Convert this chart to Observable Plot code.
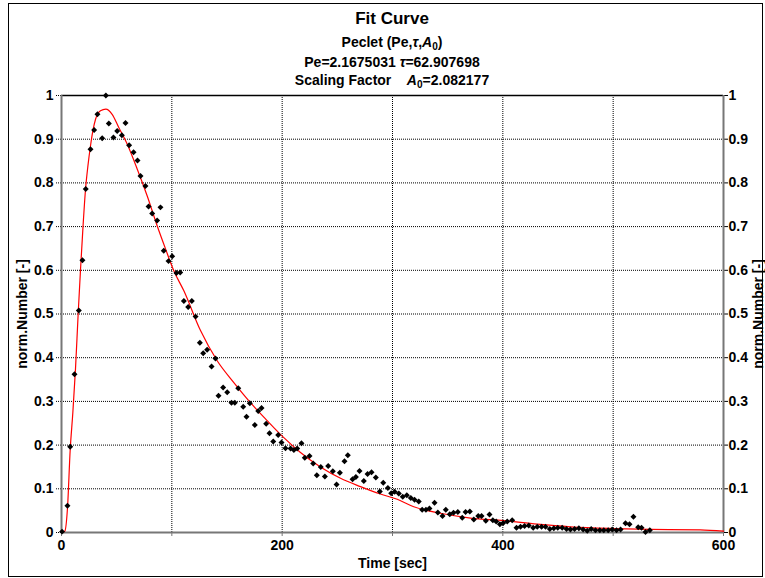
<!DOCTYPE html>
<html>
<head>
<meta charset="utf-8">
<script src="https://cdn.jsdelivr.net/npm/d3@7"></script>
<script src="https://cdn.jsdelivr.net/npm/@observablehq/plot@0.6"></script>
<style>
  body { margin: 0; background: #fff; font-family: "Liberation Sans", Arial, sans-serif; }
  #wrap { position: relative; width: 765px; height: 578px; overflow: hidden; background: #fff; }
  #head { position: relative; height: 88px; }
  .t { position: absolute; left: 0; width: 784px; text-align: center; font-weight: bold; line-height: 1; white-space: pre; color: #000; }
  .t sub { font-size: 0.72em; line-height: 0; vertical-align: -0.25em; }
  #frame { position: absolute; left: 8px; top: 3px; width: 753px; height: 572px; border: 1px solid #000; pointer-events: none; }
</style>
</head>
<body>
<div id="wrap">
  <div id="head">
    <div class="t" style="top:10px;font-size:17px;">Fit Curve</div>
    <div class="t" style="top:35px;font-size:14px;">Peclet (Pe,<i>τ</i>,<i>A</i><sub>0</sub>)</div>
    <div class="t" style="top:55px;font-size:14px;">Pe=2.1675031 <i>τ</i>=62.907698</div>
    <div class="t" style="top:73px;font-size:14px;">Scaling Factor    <i>A</i><sub>0</sub>=2.082177</div>
  </div>
  <div id="chart"></div>
  <div id="frame"></div>
</div>
<script>
// Measured residence-time samples (time in s, normalised count)
const timeSec = [
  0.5, 5.4, 7.9, 11.8, 15.7, 19.0, 22.0, 26.3, 29.6, 32.6, 36.9, 40.2, 42.9, 47.1, 50.5, 54.7,
  58.0, 61.3, 65.3, 68.9, 71.6, 76.1, 78.9, 82.2, 86.7, 89.7, 92.7, 97.0, 100.3, 104.2, 107.6,
  110.9, 114.8, 118.1, 121.5, 125.4, 128.4, 132.0, 136.0, 139.6, 142.3, 146.5, 150.2, 154.1,
  157.1, 160.2, 164.7, 167.7, 170.7, 175.2, 178.3, 181.3, 185.5, 188.5, 191.9, 196.4, 199.4,
  203.0, 207.6, 210.6, 213.6, 217.5, 220.5, 224.8, 228.1, 231.4, 235.0, 238.7, 241.7, 245.9,
  249.3, 252.3, 256.5, 259.5, 263.8, 266.8, 270.1, 274.0, 277.4, 281.0, 284.9, 288.5, 291.6,
  295.8, 298.8, 302.0, 305.7, 309.3, 313.0, 316.6, 320.0, 323.8, 326.9, 330.3, 333.5, 338.1,
  341.1, 345.3, 348.3, 351.9, 355.3, 359.2, 363.2, 366.2, 370.1, 373.7, 377.7, 380.7, 384.6,
  387.9, 390.9, 394.0, 397.3, 400.3, 404.0, 408.5, 412.4, 416.0, 419.7, 423.5, 427.5, 431.2,
  435.1, 438.7, 442.6, 446.2, 449.8, 453.8, 457.7, 461.3, 465.0, 468.9, 472.8, 476.5, 480.1,
  484.0, 487.9, 491.5, 495.5, 499.1, 503.0, 506.7, 511.2, 514.8, 518.4, 522.7, 525.7, 529.3, 533.2
];
const normNumber = [
  0.002, 0.061, 0.196, 0.362, 0.508, 0.623, 0.786, 0.877, 0.921, 0.957, 0.902, 1.000, 0.936, 0.904, 0.919, 0.909,
  0.937, 0.886, 0.870, 0.851, 0.816, 0.793, 0.746, 0.730, 0.714, 0.744, 0.645, 0.621, 0.632, 0.594, 0.595,
  0.530, 0.516, 0.530, 0.494, 0.434, 0.410, 0.418, 0.380, 0.398, 0.313, 0.332, 0.321, 0.297,
  0.297, 0.330, 0.288, 0.265, 0.296, 0.246, 0.278, 0.285, 0.249, 0.227, 0.208, 0.223, 0.206,
  0.193, 0.192, 0.189, 0.192, 0.204, 0.171, 0.175, 0.158, 0.131, 0.150, 0.128, 0.152, 0.140,
  0.110, 0.137, 0.163, 0.177, 0.122, 0.127, 0.141, 0.118, 0.134, 0.138, 0.126, 0.094, 0.114,
  0.102, 0.090, 0.093, 0.089, 0.082, 0.085, 0.079, 0.075, 0.071, 0.052, 0.052, 0.055, 0.068,
  0.046, 0.038, 0.052, 0.042, 0.045, 0.047, 0.034, 0.047, 0.048, 0.030, 0.038, 0.038, 0.027,
  0.041, 0.028, 0.025, 0.019, 0.022, 0.025, 0.028, 0.011, 0.013, 0.015, 0.016, 0.011, 0.013,
  0.013, 0.013, 0.008, 0.010, 0.011, 0.011, 0.008, 0.007, 0.008, 0.010, 0.007, 0.004, 0.008,
  0.005, 0.005, 0.005, 0.005, 0.007, 0.005, 0.007, 0.021, 0.019, 0.036, 0.012, 0.011, 0.001, 0.005
];

// Fitted Peclet curve, sampled along its length
const fitTime = [
  0, 3, 5.4, 7.9, 10.3, 12.7, 15.1, 17.2, 19.5, 21.8, 24.0, 26.3, 28.5, 30.8, 35.3, 40.2, 45.9,
  51.9, 59.5, 68.6, 77.7, 86.7, 94.3, 101.8, 110.9, 126.0, 141.1, 156.2, 171.3, 186.4, 201.5,
  216.6, 234.7, 252.9, 271.0, 289.1, 304.3, 319.3, 343.5, 370.7, 400.9, 431.2, 461.3, 500.6,
  533.9, 579.0, 600
];
const fitNorm = [
  0, 0.003, 0.055, 0.19, 0.275, 0.375, 0.50, 0.60, 0.70, 0.786, 0.84, 0.885, 0.92, 0.945, 0.965, 0.969, 0.957,
  0.927, 0.889, 0.832, 0.770, 0.702, 0.649, 0.599, 0.553, 0.462, 0.393, 0.343, 0.297, 0.256, 0.217,
  0.183, 0.150, 0.124, 0.105, 0.088, 0.076, 0.059, 0.044, 0.033, 0.027, 0.019, 0.013, 0.009,
  0.007, 0.006, 0.003
];

// Axis ticks
const xTicks = [0, 100, 200, 300, 400, 500, 600];
const xLabelTicks = [0, 200, 400, 600];
const xGridTicks = [100, 200, 300, 400, 500];
const yTicks = [0, 0.1, 0.2, 0.3, 0.4, 0.5, 0.6, 0.7, 0.8, 0.9, 1];
const yGridTicks = [0.1, 0.2, 0.3, 0.4, 0.5, 0.6, 0.7, 0.8, 0.9];

const samples = timeSec.map((t, i) => ({t, v: normNumber[i]}));
const fit = fitTime.map((t, i) => ({t, v: fitNorm[i]}));
const yFmt = d => d3.format("~g")(d);
const dotted = {stroke: "#000", strokeOpacity: 1, strokeDasharray: "1,1"};

const chart = Plot.plot({
  width: 765,
  height: 490,
  marginTop: 7,
  marginBottom: 46,
  marginLeft: 61,
  marginRight: 42,
  style: {
    fontFamily: '"Liberation Sans", Arial, sans-serif',
    fontSize: "14px",
    fontWeight: "bold",
    color: "#000",
    background: "transparent",
    overflow: "visible"
  },
  x: {domain: [0, 600]},
  y: {domain: [0, 1]},
  marks: [
    Plot.gridX(xGridTicks, dotted),
    Plot.gridY(yGridTicks, dotted),
    Plot.axisY(yTicks, {anchor: "left", tickSize: 5, tickPadding: 3, tickFormat: yFmt, label: null, strokeDasharray: "1,1"}),
    Plot.axisY(yTicks, {anchor: "right", tickSize: 4, tickPadding: 1, tickFormat: yFmt, label: null}),
    Plot.axisX(xTicks, {anchor: "bottom", tickSize: 4, tickFormat: () => "", label: null, stroke: "#777"}),
    Plot.axisX(xLabelTicks, {anchor: "bottom", tickSize: 0, tickPadding: 8, label: null}),
    Plot.ruleY([1], {stroke: "#000", strokeWidth: 1.3}),
    Plot.ruleX([0, 600], {stroke: "#777", strokeWidth: 2}),
    Plot.ruleY([0], {stroke: "#777", strokeWidth: 2}),
    Plot.line(fit, {x: "t", y: "v", stroke: "#ff0000", strokeWidth: 1.2, curve: "monotone-x"}),
    Plot.dot(samples, {x: "t", y: "v", symbol: "diamond2", r: 2.7, fill: "#000", stroke: "none"}),
    Plot.text(["norm.Number [-]"], {text: d => d, frameAnchor: "left", textAnchor: "middle", dx: -39, rotate: -90}),
    Plot.text(["norm.Number [-]"], {text: d => d, frameAnchor: "right", textAnchor: "middle", dx: 35, rotate: -90}),
    Plot.text(["Time [sec]"], {text: d => d, frameAnchor: "bottom", dy: 35})
  ]
});
document.getElementById("chart").appendChild(chart);
</script>
</body>
</html>
